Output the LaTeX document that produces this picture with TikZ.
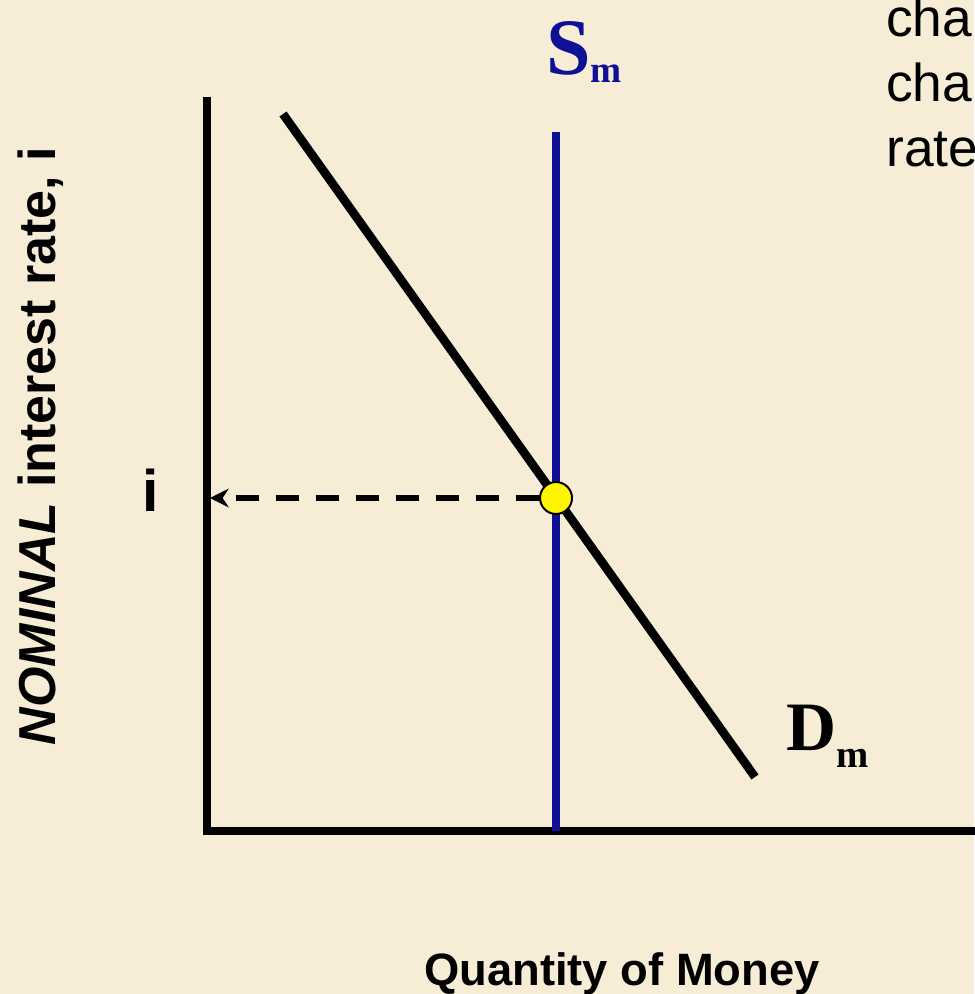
\documentclass[tikz,border=0pt]{standalone}
\usepackage{fontspec}
\setmainfont{Liberation Sans}
\newfontfamily\serifbold{Liberation Serif}[BoldFont={Liberation Serif Bold}]
\usetikzlibrary{arrows.meta}
\definecolor{bgcream}{RGB}{247,237,214}
\definecolor{supplyblue}{RGB}{16,16,150}
\definecolor{dotyellow}{RGB}{255,245,0}
\tikzset{
  axisline/.style={line width=6.5pt, line join=miter},
  demandline/.style={line width=6.5pt},
  supplyline/.style={line width=5.5pt, draw=supplyblue},
  guide/.style={line width=4.3pt, dash pattern=on 17pt off 13pt, -{Stealth[length=14pt,width=14pt]}},
  eqdot/.style={circle, fill=dotyellow, draw=black, line width=1.5pt, minimum size=24pt, inner sep=0pt},
  curvelab/.style={inner sep=0pt, font=\serifbold\bfseries},
  axislab/.style={inner sep=0pt, font=\bfseries},
  sidetext/.style={inner sep=0pt, anchor=base west, font=\fontsize{40}{40}\selectfont}
}
\begin{document}
\begin{tikzpicture}[x=0.75pt,y=-0.75pt]
\fill[bgcream] (0,0) rectangle (974,994);
\useasboundingbox (0,0) rectangle (974,994);
% axes
\coordinate (ytop) at (207,97);
\coordinate (origin) at (207,831);
\coordinate (xend) at (980,831);
\draw[axisline] (ytop) -- (origin) -- (xend);
% demand
\coordinate (dtop) at (283,114);
\coordinate (dbot) at (755,777);
\draw[demandline] (dtop) -- (dbot);
% supply
\coordinate (stop) at (556,132);
\coordinate (sbot) at (556,831);
\draw[supplyline] (stop) -- (sbot);
% equilibrium
\node[eqdot] (eq) at (556,498) {};
\coordinate (ieq) at (210,498);
\draw[guide] (eq.west) -- (ieq);
% labels
\node[curvelab, anchor=base west, text=supplyblue] (slab) at (546,75)
  {\fontsize{60}{60}\selectfont S\raisebox{-6pt}{\fontsize{28}{28}\selectfont m}};
\node[curvelab, anchor=base west] (dlab) at (786,750)
  {\fontsize{52}{52}\selectfont D\raisebox{-13pt}{\fontsize{29}{29}\selectfont m}};
\node[axislab, anchor=base, font=\bfseries\fontsize{44}{44}\selectfont] (ilab) at (151,511) {i};
\node[axislab, anchor=base, rotate=90, font=\bfseries\fontsize{39}{39}\selectfont] (ylab) at (55,446)
  {\textit{NOMINAL} interest rate, i};
\node[axislab, anchor=base, font=\bfseries\fontsize{34}{34}\selectfont] (xlab) at (622,985) {Quantity of Money};
% side text (cut off at the right edge)
\node[sidetext] (t1) at (886,37) {cha};
\node[sidetext] (t2) at (886,102) {cha};
\node[sidetext] (t3) at (886,167) {rate};
\end{tikzpicture}
\end{document}
